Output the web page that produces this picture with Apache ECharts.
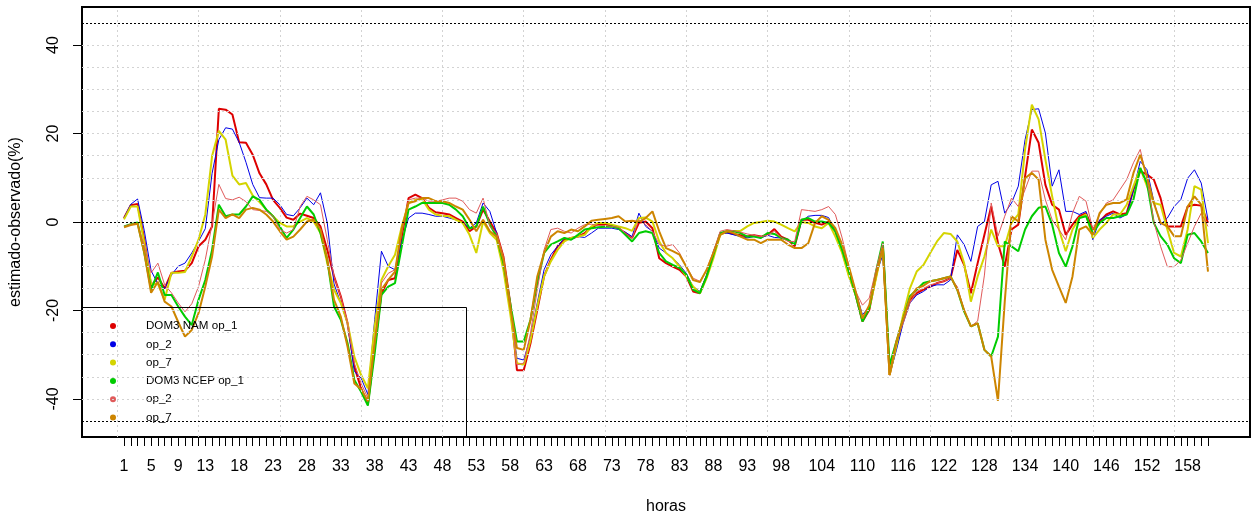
<!DOCTYPE html>
<html>
<head>
<meta charset="utf-8">
<script src="https://cdn.jsdelivr.net/npm/echarts@6/dist/echarts.min.js"></script>
<style>
  html, body { margin: 0; padding: 0; background: #ffffff; }
  #chart { width: 1259px; height: 515px; }
</style>
</head>
<body>
<div id="chart"></div>
<script>
// Hour index along the x axis (1..161)
const hours = Array.from({ length: 161 }, (_, k) => k + 1);

// Hours that carry a printed label under the axis
const xTickLabels = [1, 5, 9, 13, 18, 23, 28, 33, 38, 43, 48, 53, 58, 63, 68, 73, 78, 83, 88, 93, 98,
  104, 110, 116, 122, 128, 134, 140, 146, 152, 158];

// Labelled ticks on the y axis
const yTickLabels = [-40, -20, 0, 20, 40];

// DOM3 NAM op_1
const namOp1 = [0.9, 3.8, 4.1, -4, -14.5, -12.5, -15, -11.5, -11.2, -11, -9.3, -5.5, -4, -1, 25.6, 25.4, 24.3, 18, 17.9, 15.2,
  11, 8.5, 5, 3.2, 1, 0.5, 1.9, 1.4, 0.9, -1, -6.3, -12.3, -16.8, -22.9, -32.7, -37.6, -41.2, -28.2, -16.1, -13.1,
  -12.7, -3.3, 5.4, 6.2, 5.4, 3.2, 2.2, 2, 1.7, 0.9, 0.1, -2.1, -1, 2.8, 0.1, -2.5, -7.8, -18.3, -33.5, -33.5,
  -27.4, -19.9, -12.3, -8.5, -5.5, -4, -3.6, -3.3, -2.5, -1.2, -0.5, -0.5, -0.8, -1.4, -2.5, -3.6, -0.2, 0.1, -1.4, -8.2,
  -9.3, -10.1, -10.8, -12.3, -15.7, -16.1, -12.3, -7.4, -2.7, -2.3, -2.7, -3, -3.3, -3, -3.3, -2.9, -1.6, -3.3, -4, -5.5,
  0.5, 0.5, -0.2, -0.6, 0.1, -2.1, -6.6, -11.9, -16.5, -22.5, -19.9, -12.3, -5.1, -34.6, -28, -22, -17.6, -16.1, -15.3, -14.6,
  -13.8, -13.4, -12.7, -6.3, -9.7, -16.1, -9.3, -2.9, 3.5, -4.8, -10.1, -1.7, -0.6, 10.3, 20.9, 17.9, 8.4, 3.9, 2.8, -2.9,
  -0.6, 1.3, 2, -1.7, 0.1, 1.7, 2.4, 1.7, 2, 7.3, 11.5, 10.7, 9.6, 5.4, -1, -1, -1, 3.5, 3.9, 3.7,
  -0.2];

// DOM3 NAM op_2
const namOp2 = [0.9, 4, 5.2, -2, -11, -14, -15, -12, -10, -9.3, -7, -4.4, -1.5, 11, 18.6, 21.3, 21, 18, 13.5, 8.5,
  5.5, 5.4, 5.4, 3.9, 1.7, 1.4, 3.2, 5.4, 3.9, 6.6, -0.2, -14, -18.3, -23, -33.8, -35.3, -39, -22.1, -6.6, -10,
  -10.8, -4.4, 0.9, 2, 2, 1.7, 1.3, 1.3, 0.9, 0.5, -0.2, -1.4, -0.2, 4.3, 2.4, -2.5, -10, -19.9, -30.8, -31.2,
  -25.9, -18.3, -10.8, -7.4, -5.5, -3.6, -4, -3.3, -3.5, -2.5, -1.4, -1.4, -1.4, -1.7, -2.3, -3.3, 2, -1, -2.1, -5.9,
  -7, -8.2, -9.7, -11.6, -14.6, -15.7, -12, -6.6, -2.7, -2.5, -2.9, -3.3, -3.6, -3.3, -3.6, -3, -3.5, -3.6, -4, -5,
  0.1, 1.3, 1.5, 1.5, 1, -2.1, -6.6, -11.9, -15.7, -21, -19.1, -12, -7.4, -34.6, -29, -22.9, -18.3, -16.5, -15.7, -14.6,
  -14.2, -14.2, -13.1, -2.9, -5.1, -8.9, -1, 0.1, 8.4, 9.2, 2, 4.3, 8.1, 18.6, 25.4, 25.6, 20.1, 8.1, 11.8, 2.4,
  2.4, 1.7, 2.4, -4, 0.5, 1.3, 2, 0.9, 1.7, 7.3, 13.7, 11.8, 4.7, -0.6, 0.9, 3.5, 5.1, 9.9, 11.8, 8.8,
  0.5];

// DOM3 NAM op_7
const namOp7 = [0.6, 3.5, 3.5, -4.8, -14, -14, -17.6, -11.5, -11.5, -11.3, -7.8, -4, 1.7, 14.9, 20.6, 18.6, 10.5, 8.5, 8.8, 6,
  4.5, 2.8, 1.3, -0.2, -1, -1, 0.1, 0.9, 0.1, -2.5, -9.3, -15.3, -18.3, -22.9, -30.5, -34.6, -37.6, -23.6, -13.1, -10,
  -7.4, -1, 4.3, 5, 5.2, 2.8, 1.7, 1.4, 1.3, 0.5, -0.2, -2.9, -7, 0.1, -2.5, -4, -10.8, -20.6, -31.9, -32.3,
  -26.7, -19.1, -12.3, -8.9, -6.3, -4.4, -3.6, -3.3, -2.9, -1, -0.2, -0.2, -0.6, -1, -1.4, -2, 0.9, 1, 0.1, -4.4,
  -7, -8.2, -10.1, -12.3, -14.6, -16.1, -12.7, -8.2, -2.9, -2.1, -2.1, -2, -1, -0.2, 0, 0.3, 0.1, -0.6, -1.4, -2.1,
  0, -0.2, -1, -1.4, -0.2, -3.3, -7, -12.3, -16.5, -21.8, -19.5, -12.7, -5.5, -34.6, -28, -21, -15, -11.2, -9.7, -7,
  -4.4, -2.5, -2.7, -4.4, -9.3, -18, -12.3, -7.8, -1.7, -5.5, -5.5, -0.2, 1.7, 16.4, 26.5, 23.2, 14.1, 5.8, -1.7, -6.6,
  -1.7, 0.9, 1.7, -3.6, -1.7, -0.2, 1.7, 1.7, 3.9, 8.1, 12.2, 8.1, 4.3, 3.9, -1.7, -7, -7.8, -1.7, 8.1, 7.3,
  -4.8];

// DOM3 NCEP op_1
const ncepOp1 = [-1, -0.5, -0.1, -7, -15.3, -11.4, -16.5, -16.5, -19.1, -21.4, -23.3, -17.6, -13.1, -6.3, 3.9, 1.3, 1.7, 1.7, 3.5, 5.8,
  5, 2.8, 1.3, -1, -3.6, -1.7, 0.9, 3.5, 1.7, -2.5, -8.5, -19.1, -22.1, -27.4, -35.7, -38.4, -41.5, -29.7, -16.5, -14.6,
  -13.8, -5.5, 2.8, 3.5, 4.3, 4.3, 4.3, 4.3, 3.9, 2.8, 1.3, -1.4, -1, 3.5, -0.6, -3.3, -9.3, -18.3, -27, -27,
  -22.1, -13.8, -7, -5.1, -4.4, -3.6, -4, -2.9, -1.7, -1.4, -1.2, -1.1, -1, -1.4, -2.9, -4.4, -2.5, -2.1, -2.5, -7,
  -8.9, -9.7, -10.4, -11.9, -15.3, -16.1, -12.3, -7.4, -2.5, -2.1, -2.1, -2.5, -3.3, -3.3, -3.6, -2.5, -2.7, -3.6, -4, -5.1,
  0.5, 0.9, 0.1, 0.1, -0.2, -2.1, -6.3, -11.2, -16.5, -22.5, -19.5, -11.2, -4.4, -32.4, -27, -22, -16.8, -15.3, -13.8, -13.4,
  -13.1, -12.7, -12.3, -15.3, -20.2, -23.6, -22.9, -28.9, -30.4, -25.9, -4.4, -5.5, -6.6, -1.7, 1.3, 3.2, 3.5, -0.6, -7, -10.1,
  -5.5, 0.9, 1.3, -2.5, -0.2, 0.9, 0.9, 1.3, 1.7, 5.1, 12.2, 8.8, -0.2, -3.2, -5.1, -8.2, -9.3, -2.9, -2.5, -4.4,
  -7];

// DOM3 NCEP op_2
const ncepOp2 = [-1, -0.5, -0.3, -5.5, -11.5, -9.3, -14.2, -16, -18.3, -20.3, -18.5, -14.6, -8.5, -0.5, 8.5, 5.3, 5, 5.6, 4.6, 2.8,
  2.6, 2.4, 1.3, -1.7, -2.5, -1.7, 3.5, 5.8, 5, 3.9, -4, -12.3, -16.8, -22.9, -31.9, -36.5, -39.8, -26.7, -13.8, -11.6,
  -10.8, -2.5, 5, 5.4, 5.4, 4.7, 4.7, 5, 5.4, 5.4, 4.7, 2.8, 2, 5.4, -1, -2.5, -7.8, -18.3, -32.3, -31.9,
  -25.1, -15.3, -6.3, -1.7, -1.4, -2.1, -2.5, -1.4, -0.6, -0.5, -0.8, -0.8, -1, -1.2, -2.5, -3.6, 0.5, -0.6, -2.1, -5.1,
  -5.5, -5.1, -7, -10.1, -12.7, -13.4, -10.8, -6.6, -2.1, -1.7, -2, -2.3, -2.7, -3, -3.3, -3, -2.1, -3.5, -4.4, -4.4,
  2.8, 2.6, 2.4, 2.8, 3.5, 1.7, -3.6, -10.1, -15.7, -18.8, -17.2, -10.8, -4.8, -34.6, -27, -22.9, -18.3, -15.7, -15, -14.2,
  -13.8, -13.4, -12.7, -14.6, -19.9, -23.6, -22.4, -12, 4.3, -3.2, 1.3, 5.4, 3.5, 7.3, 11.5, 11.5, 5, 0.5, -1.7, -4,
  2, 5.8, 4.7, -1.7, 1.7, 4.3, 5, 7.3, 9.6, 13.4, 16.4, 9.6, 0.1, -5.5, -10.1, -10.1, -8.6, -4.8, -1, 2,
  -1];

// DOM3 NCEP op_7
const ncepOp7 = [-1.2, -0.7, -0.4, -7, -16, -13.5, -18, -19.1, -22.6, -25.9, -24.4, -20.6, -14.6, -7.8, 2.8, 0.9, 1.7, 0.9, 2.8, 3.2,
  2.8, 1.7, 0.1, -2.1, -4, -3.3, -1.7, 0.1, 0.5, -1.7, -8.5, -17.6, -21.4, -28.2, -36.5, -37.8, -40.5, -27.4, -15.3, -13.1,
  -11.2, -1.4, 4.3, 4.7, 5.4, 5.4, 4.7, 4.7, 4.3, 3.5, 2.8, 0.5, -2.1, 0.5, -2.1, -3.3, -8.5, -19.1, -28.5, -28.9,
  -22.1, -12.3, -7, -3.3, -2.1, -2.5, -1.7, -2.1, -1, 0.3, 0.5, 0.7, 0.9, 1.3, 0.1, 0.3, 0, 0.9, 2.4, -2.1,
  -5.9, -6.6, -7.4, -10.1, -13.1, -13.6, -10.8, -7, -2.9, -2, -2.5, -3.3, -4, -4, -4.8, -4, -4, -4, -5.1, -5.9,
  -5.9, -4.8, -0.2, 1.3, 0.5, -1.4, -5.1, -10.1, -15.7, -21.8, -18.8, -12, -5.9, -34.6, -27, -22, -17.2, -15, -14.4, -13.4,
  -13.1, -12.7, -12.3, -15.3, -19.9, -23.6, -22.9, -28.9, -30.4, -40.4, -18, 1.3, 0.1, 9.9, 11.1, 9.6, -4, -10.8, -14.6, -18.3,
  -12.3, -1.7, -1, -2.9, 2, 3.9, 4.3, 4.3, 5.1, 11.1, 15.2, 10.3, 4.3, -0.2, -1, -3.2, -3.2, 3.5, 5.8, 3.9,
  -11.2];

// Series keys, legend texts, colours and line widths
const seriesKeys   = ['nam1', 'nam2', 'nam7', 'ncep1', 'ncep2', 'ncep7'];
const legendTexts  = ['DOM3 NAM op_1', 'op_2', 'op_7', 'DOM3 NCEP op_1', 'op_2', 'op_7'];
const seriesValues = [namOp1, namOp2, namOp7, ncepOp1, ncepOp2, ncepOp7];
const seriesColors = ['#dd0000', '#0000e6', '#d4d400', '#00cc00', '#e05a5a', '#cd8500'];
const seriesWidths = [2, 1, 2, 2, 1, 2];

const FONT = '"Liberation Sans", Arial, sans-serif';

const chart = echarts.init(document.getElementById('chart'), null, { renderer: 'canvas' });

const legendTextByKey = {};
seriesKeys.forEach((k, i) => { legendTextByKey[k] = legendTexts[i]; });

const dataSeries = seriesKeys.map((key, s) => ({
  name: key,
  type: 'line',
  data: seriesValues[s].map((v, i) => [hours[i], v]),
  showSymbol: false,
  symbol: 'circle',
  smooth: false,
  z: 3,
  color: seriesColors[s],
  itemStyle: { color: seriesColors[s], borderWidth: 0 },
  lineStyle: { color: seriesColors[s], width: seriesWidths[s] },
  emphasis: { disabled: true },
  animation: false
}));

// Background reference lines: light dotted grid plus black dotted lines at 0 and +/-45
const gridX = [0, 12, 24, 36, 48, 60, 72, 84, 96, 108, 120, 132, 144, 156];
const gridY = [-40, -35, -30, -25, -20, -15, -10, -5, 5, 10, 15, 20, 25, 30, 35, 40];
const refY = [-45, 0, 45];

const guideSeries = {
  name: 'guides',
  type: 'line',
  data: [],
  z: 1,
  silent: true,
  animation: false,
  markLine: {
    silent: true,
    symbol: 'none',
    animation: false,
    label: { show: false },
    emphasis: { disabled: true },
    data: [
      ...gridX.map(x => ({ xAxis: x, lineStyle: { color: '#d3d3d3', width: 1, type: [2, 3] } })),
      ...gridY.map(y => ({ yAxis: y, lineStyle: { color: '#d3d3d3', width: 1, type: [2, 3] } })),
      ...refY.map(y => ({ yAxis: y, lineStyle: { color: '#000000', width: 1, type: [2, 2] } }))
    ]
  }
};

const option = {
  backgroundColor: '#ffffff',
  animation: false,
  textStyle: { fontFamily: FONT },
  grid: {
    left: 82, right: 9, top: 7, bottom: 78,
    outerBoundsMode: 'none',
    containLabel: false,
    show: true, borderColor: '#000000', borderWidth: 2, backgroundColor: 'transparent'
  },
  xAxis: {
    type: 'value',
    min: -5.2,
    max: 167.2,
    position: 'bottom',
    name: 'horas',
    nameLocation: 'middle',
    nameGap: 62,
    nameTextStyle: { fontSize: 16, color: '#000', fontFamily: FONT },
    axisLine: { show: false, onZero: false },
    axisTick: { show: true, length: 9, customValues: hours, lineStyle: { color: '#000', width: 1 } },
    axisLabel: { show: true, customValues: xTickLabels, fontSize: 16, color: '#000', margin: 22, fontFamily: FONT },
    splitLine: { show: false }
  },
  yAxis: {
    type: 'value',
    min: -48.6,
    max: 48.6,
    position: 'left',
    name: 'estimado-observado(%)',
    nameLocation: 'middle',
    nameGap: 58,
    nameRotate: 90,
    nameTextStyle: { fontSize: 16, color: '#000', fontFamily: FONT },
    axisLine: { show: false, onZero: false },
    axisTick: { show: true, length: 9, customValues: yTickLabels, lineStyle: { color: '#000', width: 1 } },
    axisLabel: { show: true, customValues: yTickLabels, rotate: 90, fontSize: 16, color: '#000', margin: 20, fontFamily: FONT },
    splitLine: { show: false }
  },
  legend: {
    show: true,
    orient: 'vertical',
    left: 110,
    top: 319,
    padding: 0,
    itemWidth: 6,
    itemHeight: 6,
    itemGap: 4.3,
    icon: 'circle',
    selectedMode: false,
    data: seriesKeys,
    formatter: name => legendTextByKey[name],
    itemStyle: { borderWidth: 0 },
    textStyle: { fontSize: 11.6, color: '#000', fontFamily: FONT, lineHeight: 14, padding: [0, 0, 0, 25] }
  },
  graphic: [
    {
      type: 'polyline',
      silent: true,
      z: 10,
      shape: { points: [[82, 307.5], [466.5, 307.5], [466.5, 437]] },
      style: { stroke: '#000', lineWidth: 1, fill: null }
    }
  ],
  series: [guideSeries, ...dataSeries]
};

chart.setOption(option);
</script>
</body>
</html>
